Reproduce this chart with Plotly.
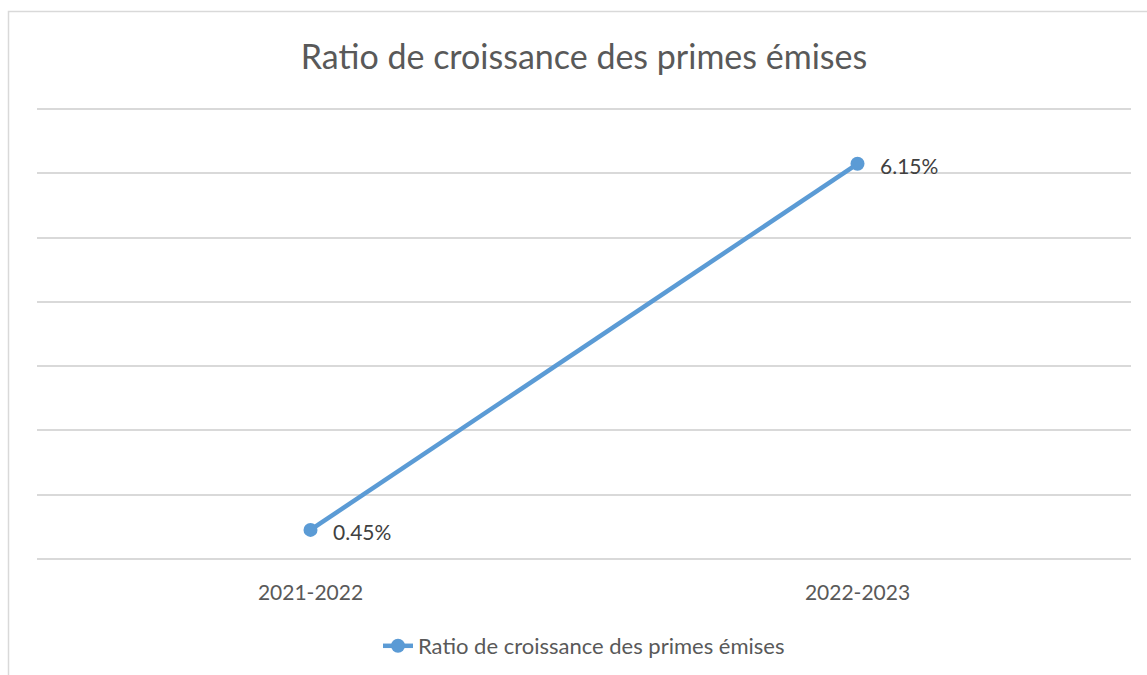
import plotly.graph_objects as go

# Growth ratio of written premiums, by period
periods = ["2021-2022", "2022-2023"]
ratio_pct = [0.45, 6.15]
labels = [f"{v:.2f}%" for v in ratio_pct]

series_name = "Ratio de croissance des primes émises"
title_text = "Ratio de croissance des primes émises"

W, H = 1147, 675
ML, MR, MT, MB = 37, 16, 106, 113
plot_w = W - ML - MR
plot_h = H - MT - MB

def px_x(px):
    return (px - ML) / plot_w

def px_y(py):
    return (H - MB - py) / plot_h

FONT = "Lato"
TEXT_COLOR = "#595959"
LABEL_COLOR = "#404040"
LINE_COLOR = "#5B9BD5"
GRID_COLOR = "#d9d9d9"

fig = go.Figure()
fig.add_trace(go.Scatter(
    x=periods,
    y=ratio_pct,
    mode="lines+markers",
    name=series_name,
    line=dict(color=LINE_COLOR, width=4.5),
    marker=dict(color=LINE_COLOR, size=14),
    cliponaxis=False,
))

# value labels to the right of each point
for xv, yv, lab in zip(periods, ratio_pct, labels):
    fig.add_annotation(
        x=xv, y=yv, text=lab,
        xref="x", yref="y",
        xanchor="left", yanchor="middle",
        xshift=20, yshift=-2,
        showarrow=False,
        font=dict(family=FONT, size=21, color=LABEL_COLOR),
    )

fig.update_layout(
    width=W,
    height=H,
    margin=dict(l=ML, r=MR, t=MT, b=MB, autoexpand=False),
    paper_bgcolor="white",
    plot_bgcolor="white",
    title=dict(
        text=title_text,
        x=0.5,
        xref="paper",
        xanchor="center",
        y=1 - 57 / H,
        yref="container",
        yanchor="middle",
        font=dict(family=FONT, size=34, color=TEXT_COLOR),
    ),
    xaxis=dict(
        type="category",
        showgrid=False,
        zeroline=False,
        showline=False,
        ticks="",
        ticklabelstandoff=16,
        tickfont=dict(family=FONT, size=21, color=TEXT_COLOR),
        range=[-0.5, 1.5],
    ),
    yaxis=dict(
        range=[-0.05, 7.05],
        tickvals=[0, 1, 2, 3, 4, 5, 6, 7],
        showticklabels=False,
        showgrid=True,
        gridcolor=GRID_COLOR,
        gridwidth=1.5,
        zeroline=False,
        showline=False,
        ticks="",
        fixedrange=True,
    ),
    showlegend=True,
    legend=dict(
        orientation="h",
        x=0.5,
        xanchor="center",
        y=px_y(646),
        yanchor="middle",
        font=dict(family=FONT, size=22, color=TEXT_COLOR),
    ),
    shapes=[
        dict(
            type="rect",
            xref="paper",
            yref="paper",
            x0=px_x(8.5),
            x1=px_x(1160),
            y0=px_y(690),
            y1=px_y(11.5),
            line=dict(color=GRID_COLOR, width=1.5),
            fillcolor="rgba(0,0,0,0)",
            layer="below",
        )
    ],
)

fig.write_html("out.html")
